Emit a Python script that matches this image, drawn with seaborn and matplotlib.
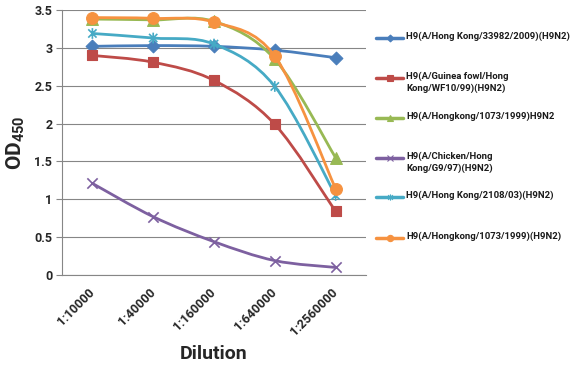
import numpy as np
import pandas as pd
import seaborn as sns
import matplotlib
matplotlib.use("Agg")
import matplotlib.pyplot as plt
import matplotlib.transforms as mtrans
from matplotlib.path import Path
from matplotlib.patches import PathPatch
from matplotlib.lines import Line2D
from matplotlib import font_manager

# ---------------- data ----------------
dilutions = ["1:10000", "1:40000", "1:160000", "1:640000", "1:2560000"]
series_names = [
    "H9(A/Hong Kong/33982/2009)(H9N2)",
    "H9(A/Guinea fowl/Hong\nKong/WF10/99)(H9N2)",
    "H9(A/Hongkong/1073/1999)H9N2",
    "H9(A/Chicken/Hong\nKong/G9/97)(H9N2)",
    "H9(A/Hong Kong/2108/03)(H9N2)",
    "H9(A/Hongkong/1073/1999)(H9N2)",
]
od_hk33982 = [3.02, 3.03, 3.02, 2.97, 2.87]
od_guinea = [2.90, 2.81, 2.57, 1.99, 0.84]
od_hk1073a = [3.38, 3.37, 3.35, 2.85, 1.55]
od_chicken = [1.21, 0.77, 0.44, 0.19, 0.10]
od_hk2108 = [3.19, 3.13, 3.05, 2.49, 1.05]
od_hk1073b = [3.40, 3.39, 3.34, 2.89, 1.14]
y_ticks = [0, 0.5, 1, 1.5, 2, 2.5, 3, 3.5]
y_ticklabels = ["0", "0.5", "1", "1.5", "2", "2.5", "3", "3.5"]

all_values = [od_hk33982, od_guinea, od_hk1073a, od_chicken, od_hk2108, od_hk1073b]

# ---------------- styles ----------------
colors = ["#4A7EBB", "#BE4B48", "#98B954", "#7D60A0", "#46AAC5", "#F69240"]
star = Path([(-1, -1), (1, 1), (-1, 1), (1, -1), (0, -1.3), (0, 1.3)],
            [Path.MOVETO, Path.LINETO, Path.MOVETO, Path.LINETO, Path.MOVETO, Path.LINETO])
markers = ["D", "s", "^", "x", star, "o"]
msizes = [42, 60, 72, 55, 60, 72]
kind = ["filled", "filled", "filled", "x", "path", "filled"]

sns.set_theme(style="white")
avail = {f.name for f in font_manager.fontManager.ttflist}
font = "DejaVu Sans"
for cand in ["Liberation Sans Narrow", "Roboto", "Open Sans"]:
    if cand in avail:
        font = cand
        break
plt.rcParams["font.family"] = [font, "DejaVu Sans"]
plt.rcParams["font.weight"] = "bold"
plt.rcParams["mathtext.fontset"] = "custom"
plt.rcParams["mathtext.rm"] = font
plt.rcParams["mathtext.bf"] = font + ":bold"

W, H = 581, 372
fig = plt.figure(figsize=(W / 100, H / 100), dpi=100)
fig.patch.set_facecolor("white")
x0, x1, ytop, ybot = 62, 366, 10, 275
ax = fig.add_axes([x0 / W, 1 - ybot / H, (x1 - x0) / W, (ybot - ytop) / H])
ax.set_facecolor("white")

pos = np.arange(len(dilutions))

def smooth_path(xs, ys):
    pts = np.column_stack([xs, ys]).astype(float)
    n = len(pts)
    verts = [pts[0]]
    codes = [Path.MOVETO]
    for i in range(n - 1):
        p_prev = pts[i - 1] if i > 0 else pts[i]
        p_next2 = pts[i + 2] if i + 2 < n else pts[i + 1]
        c1 = pts[i] + (pts[i + 1] - p_prev) / 6.0
        c2 = pts[i + 1] - (p_next2 - pts[i]) / 6.0
        verts += [c1, c2, pts[i + 1]]
        codes += [Path.CURVE4] * 3
    return Path(verts, codes)

for k, (name, vals) in enumerate(zip(series_names, all_values)):
    z = 3 + 2 * k
    patch = PathPatch(smooth_path(pos, vals), facecolor="none", edgecolor=colors[k],
                      lw=2.0, transform=ax.transData, zorder=z, capstyle="round")
    ax.add_patch(patch)
    df = pd.DataFrame({"pos": pos, "od": vals})
    if kind[k] == "filled":
        sns.scatterplot(data=df, x="pos", y="od", ax=ax, marker=markers[k], s=msizes[k],
                        color=colors[k], edgecolor=colors[k], linewidth=0.8, zorder=z + 1)
    elif kind[k] == "x":
        sns.scatterplot(data=df, x="pos", y="od", ax=ax, marker=markers[k], s=msizes[k],
                        color=colors[k], linewidth=1.2, zorder=z + 1)
    else:
        sns.scatterplot(data=df, x="pos", y="od", ax=ax, marker=markers[k], s=msizes[k],
                        facecolor="none", edgecolor=colors[k], color=colors[k],
                        linewidth=1.2, zorder=z + 1)

ax.set_xlim(-0.5, len(dilutions) - 0.5)
ax.set_ylim(0, 3.5)
ax.set_yticks(y_ticks)
ax.set_yticklabels(y_ticklabels, fontsize=9, fontweight="bold")
ax.set_xticks(pos)
ax.set_xticklabels(dilutions, fontsize=9, fontweight="bold", rotation=45,
                   ha="right", va="center", rotation_mode="anchor")
for lbl in ax.get_xticklabels():
    lbl.set_transform(lbl.get_transform() + mtrans.ScaledTranslation(4 / 100, 0, fig.dpi_scale_trans))
ax.tick_params(axis="x", length=0, pad=11)
ax.tick_params(axis="y", length=4, width=0.8, color="#868686", pad=3, left=True)
ax.yaxis.grid(True, color="#868686", lw=0.8)
ax.set_axisbelow(True)
for s in ["top", "right"]:
    ax.spines[s].set_visible(False)
ax.spines["left"].set_color("#868686")
ax.spines["left"].set_linewidth(0.8)
ax.spines["bottom"].set_color("#868686")
ax.spines["bottom"].set_linewidth(0.8)

ax.set_xlabel("Dilution", fontsize=14, fontweight="bold")
ax.xaxis.set_label_coords(0.5, -(345 - ybot) / (ybot - ytop))
ax.set_ylabel(r"$\mathbf{OD}_{\mathbf{450}}$", fontsize=15)
ax.yaxis.set_label_coords(-(62 - 27) / (x1 - x0), 0.5)

# ---------------- legend (manual) ----------------
leg_y = [38, 78, 118, 158, 197, 238]
for k, name in enumerate(series_names):
    yy = 1 - leg_y[k] / H
    fig.add_artist(Line2D([376 / W, 403 / W], [yy, yy], color=colors[k], lw=2.5,
                          transform=fig.transFigure))
    mk = markers[k]
    fig.add_artist(Line2D([389.5 / W], [yy], marker=mk, markersize=4.5 if mk != "D" else 3.5,
                          color=colors[k], markeredgewidth=0.8, transform=fig.transFigure,
                          lw=0))
    fig.text(406 / W, 1 - (leg_y[k] - 6) / H, name, fontsize=6.8, fontweight="bold",
             va="top", ha="left", linespacing=1.35, color="#1a1a1a")

fig.savefig("out.png", dpi=100, facecolor="white")
